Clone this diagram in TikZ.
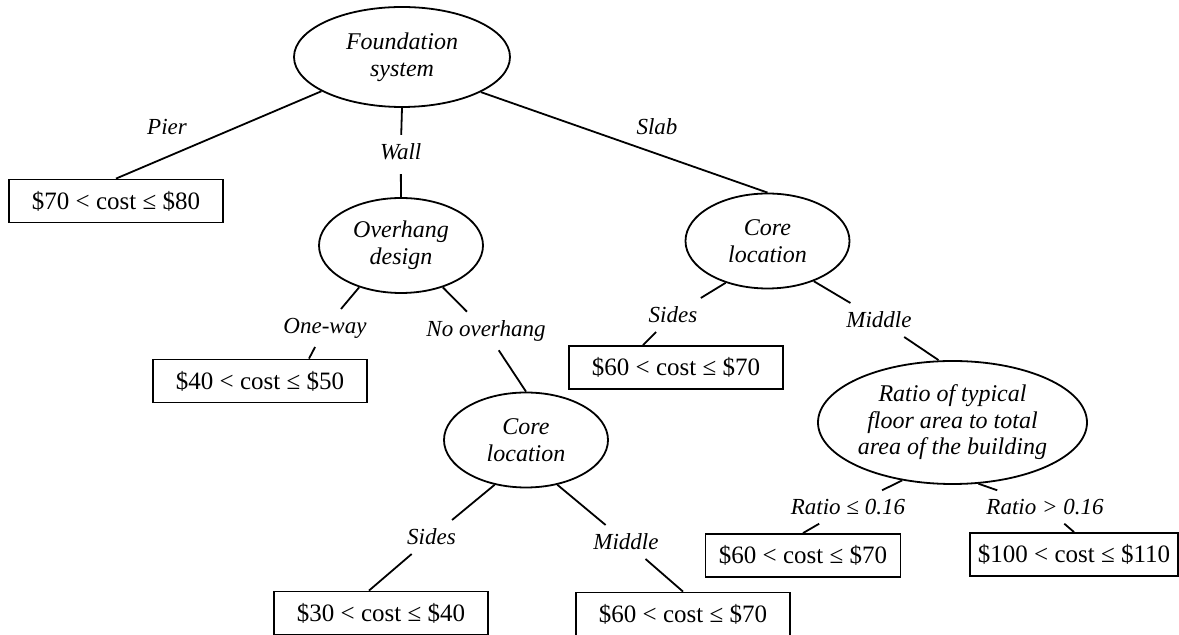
\documentclass[tikz,border=0pt]{standalone}
\usepackage{fontspec}
\setmainfont{Liberation Serif}
\usetikzlibrary{shapes.geometric}

\begin{document}
\begin{tikzpicture}[x=0.5pt, y=-0.5pt, line width=0.9pt,
  every node/.style={font=\fontsize{12}{13.3}\selectfont},
  decision/.style={ellipse, draw, inner sep=0pt, align=center, minimum width=82pt, minimum height=47.5pt, font=\fontsize{12}{13.3}\selectfont\itshape},
  leaf/.style={draw, minimum width=107pt, minimum height=21.5pt, inner sep=0pt, font=\fontsize{12.5}{14}\selectfont},
  branch/.style={inner xsep=2pt, inner ysep=4pt, font=\fontsize{11.5}{13}\selectfont\itshape},]
  \useasboundingbox (0,0) rectangle (1179,635);
  % decisions
  \node[decision, minimum width=108pt, minimum height=50pt] (root) at (402,57) {Foundation\\system};
  \node[decision] (over) at (401,245.5) {Overhang\\design};
  \node[decision] (core1) at (767.5,241) {Core\\location};
  \node[decision] (core2) at (526,440) {Core\\location};
  \node[decision, minimum width=134.5pt, minimum height=61.5pt] (ratio) at (952.5,422.5) {Ratio of typical\\floor area to total\\area of the building};
  % costs
  \node[leaf] (pier) at (116,201) {\$70 < cost ≤ \$80};
  \node[leaf] (b4050) at (260,381) {\$40 < cost ≤ \$50};
  \node[leaf] (b3040) at (381,613) {\$30 < cost ≤ \$40};
  \node[leaf] (b6070a) at (683,614) {\$60 < cost ≤ \$70};
  \node[leaf] (b6070b) at (676,367.5) {\$60 < cost ≤ \$70};
  \node[leaf, minimum width=97.5pt] (b6070c) at (803,555.5) {\$60 < cost ≤ \$70};
  \node[leaf, minimum width=104pt] (b100) at (1074,554.5) {\$100 < cost ≤ \$110};
  % branch labels
  \node[branch] (pierlbl) at (167,127) {Pier};
  \node[branch] (slablbl) at (657,127) {Slab};
  \node[branch] (wall) at (400.7,152) {Wall};
  \node[branch] (oneway) at (325,328) {One-way};
  \node[branch] (noover) at (486,331) {No overhang};
  \node[branch] (sides2) at (431.5,537) {Sides};
  \node[branch] (middle2) at (626,542) {Middle};
  \node[branch] (sides1) at (673,315) {Sides};
  \node[branch] (middle1) at (879,320) {Middle};
  \node[branch] (ratlo) at (848,507) {Ratio ≤ 0.16};
  \node[branch] (rathi) at (1045,507) {Ratio > 0.16};
  % edges
  \draw (root) -- (pier.north);
  \draw (root.336) -- (core1.north);
  \draw[shorten <=2.5pt] (root.south) -- (wall) -- (over.north);
  \draw (over.225) -- (oneway) -- ([xshift=24.5pt]b4050.north);
  \draw (over.315) -- (noover) -- (core2.north);
  \draw (core2.235) -- (sides2) -- ([xshift=-6pt]b3040.north);
  \draw (core2.305) -- (middle2) -- (b6070a.north);
  \draw (core1.225) -- (sides1) -- ([xshift=-16.5pt]b6070b.north);
  \draw (core1.319) -- (middle1) -- ([xshift=-7pt]ratio.north);
  \draw (ratio.229) -- (ratlo) -- (b6070c.north);
  \draw (ratio.293) -- (rathi) -- (b100.north);
\end{tikzpicture}
\end{document}
